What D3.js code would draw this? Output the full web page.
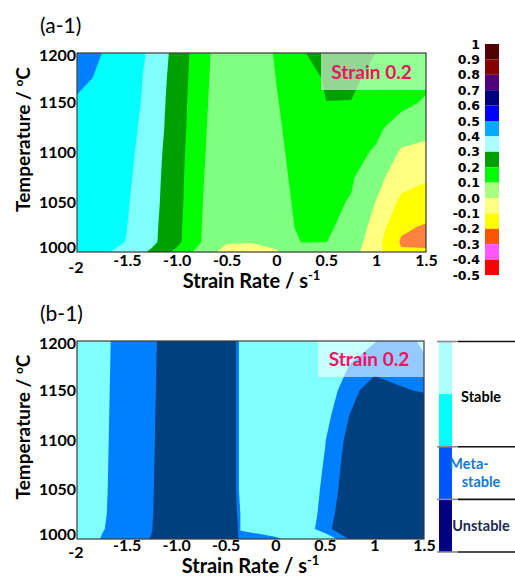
<!DOCTYPE html>
<html>
<head>
<meta charset="utf-8">
<script src="https://cdn.jsdelivr.net/npm/d3@7"></script>
<style>
  body { margin: 0; background: #fff; }
  svg { display: block; }
</style>
</head>
<body>
<script>
// ---------- data ----------
const temperatures = [1000, 1010, 1025, 1050, 1075, 1100, 1125, 1150, 1175, 1200];

// (a-1) power dissipation efficiency, one row per temperature
const etaRates = [-2, -1.75, -1.5, -1.25, -1, -0.75, -0.5, -0.25, 0, 0.25, 0.5, 0.75, 1, 1.25, 1.5];
const etaGrid = [
  [0.45, 0.421, 0.356, 0.285, 0.176, 0.057, -0.038, -0.04, -0.01, 0.0525, 0.06, 0.035, -0.065, -0.19, -0.18],
  [0.44, 0.425, 0.398, 0.322, 0.225, 0.098, 0.01, 0.004, 0.03, 0.102, 0.101, 0.06, -0.065, -0.21, -0.23],
  [0.43, 0.415, 0.401, 0.325, 0.228, 0.1005, 0.015, 0.015, 0.03, 0.127, 0.11, 0.079, -0.044, -0.184, -0.21],
  [0.44, 0.425, 0.409, 0.331, 0.235, 0.1044, 0.02, 0.03, 0.05, 0.133, 0.12, 0.094, -0.004, -0.1205, -0.145],
  [0.45, 0.435, 0.418, 0.336, 0.238, 0.109, 0.02, 0.03, 0.06, 0.144, 0.14, 0.11, 0.035, -0.062, -0.088],
  [0.46, 0.445, 0.427, 0.342, 0.243, 0.115, 0.02, 0.03, 0.07, 0.155, 0.16, 0.13, 0.088, -0.012, -0.029],
  [0.47, 0.455, 0.439, 0.35, 0.25, 0.121, 0.02, 0.025, 0.08, 0.168, 0.18, 0.165, 0.1235, 0.05, 0.031],
  [0.485, 0.475, 0.453, 0.358, 0.252, 0.128, 0.02, 0.03, 0.095, 0.145, 0.199, 0.197, 0.17, 0.13, 0.086],
  [0.53, 0.482, 0.455, 0.3675, 0.256, 0.135, 0.021, 0.035, 0.102, 0.15, 0.2125, 0.225, 0.165, 0.145, 0.13],
  [0.555, 0.5, 0.46, 0.38, 0.263, 0.14, 0.029, 0.04, 0.11, 0.185, 0.265, 0.27, 0.198, 0.17, 0.15]
];
const etaThresholds = [-0.2, -0.1, 0, 0.1, 0.2, 0.3, 0.4, 0.5];
const etaColors = ['#ff8040', '#ffff00', '#ffff80', '#80ff80', '#00ff00', '#00a000', '#80ffff', '#00ffff', '#0080ff'];

// (b-1) stability class index: <1 stable, 1-2 metastable, >=2 unstable
const stabRates = [-2, -1.75, -1.5, -1.25, -1, -0.75, -0.4, -0.35, 0, 0.25, 0.5, 0.75, 1, 1.25, 1.5];
const stabGrid = [
  [0, 1.064, 1.5, 2.043, 3, 3, 2.75, 1.5, 1.3, 0, 0, 2.08, 3, 3, 3],
  [0, 0.932, 1.5, 1.958, 3, 3, 3, 0.9, 0, 0, 1.667, 2.857, 3, 3, 3],
  [0, 0.875, 1.5, 1.922, 3, 3, 2.45, 0.94, 0, 0, 1.43, 2.86, 3, 3, 3],
  [0, 0.842, 1.5, 1.889, 3, 3, 2.2, 0.4, 0, 0, 1.25, 2.639, 3, 3, 3],
  [0, 0.824, 1.5, 1.864, 3, 3, 2.2, 0.4, 0, 0, 1.087, 2.51, 3, 3, 3],
  [0, 0.806, 1.5, 1.837, 3, 3, 2.2, 0.4, 0, 0, 0.944, 2.333, 3, 3, 3],
  [0, 0.786, 1.5, 1.81, 3, 3, 2.2, 0.4, 0, 0, 0.649, 2.02, 3, 3, 3],
  [0, 0.765, 1.5, 1.78, 3, 3, 2.2, 0.4, 0, 0, 0.458, 1.5, 2.75, 2.127, 1.9],
  [0, 0.742, 1.5, 1.75, 3, 3, 2.2, 0.4, 0, 0, 0, 1.04, 1.5, 1.5, 1.227],
  [0, 0.72, 1.5, 1.71, 3, 3, 2.2, 0.4, 0, 0, 0, 0.3, 0.95, 1.5, 0.79]
];
const stabThresholds = [1, 2];
const stabColors = ['#80ffff', '#0080ff', '#004080'];

const xTicks = [-2, -1.5, -1, -0.5, 0, 0.5, 1, 1.5];
const xTickLabels = ['-2', '-1.5', '-1.0', '-0.5', '0', '0.5', '1', '1.5'];
const yTicks = [1000, 1050, 1100, 1150, 1200];

const barValues = [1, 0.9, 0.8, 0.7, 0.6, 0.5, 0.4, 0.3, 0.2, 0.1, 0, -0.1, -0.2, -0.3, -0.4, -0.5];
const barLabels = ['1', '0.9', '0.8', '0.7', '0.6', '0.5', '0.4', '0.3', '0.2', '0.1', '0.0', '-0.1', '-0.2', '-0.3', '-0.4', '-0.5'];
const barColors = ['#4f0000', '#850000', '#50007f', '#00007f', '#0000ff', '#00aaff', '#aaffff',
  '#00a000', '#00ff00', '#aaff80', '#ffff80', '#ffff00', '#ff5500', '#ff55ff', '#ff0000'];

const stabSwatches = ['#aaffff', '#00ffff', '#0055ff', '#000080'];
const stabClasses = [
  { lines: ['Stable'], from: 0, to: 2, color: '#000' },
  { lines: ['Meta-', 'stable'], from: 2, to: 3, color: '#1a78cc' },
  { lines: ['Unstable'], from: 3, to: 4, color: '#1c2a55' }
];

// ---------- drawing ----------
const FONT = 'Lato, "Open Sans", sans-serif';
const svg = d3.select('body').append('svg').attr('width', 515).attr('height', 576);

function panel(cfg) {
  const { id, left, right, top, bottom, rates, grid, thresholds, colors } = cfg;
  const x = d3.scaleLinear().domain([-2, 1.5]).range([left, right]);
  const y = d3.scaleLinear().domain([1000, 1200]).range([bottom, top]);

  // grid sample i sits at contour coordinate i + 0.5
  const gx = d3.scaleLinear().domain(rates.map((_, i) => i + 0.5)).range(rates.map(x));
  const gy = d3.scaleLinear().domain(temperatures.map((_, j) => j + 0.5)).range(temperatures.map(y));
  const path = d3.geoPath(d3.geoTransform({
    point(px, py) { this.stream.point(gx(px), gy(py)); }
  }));
  const contours = d3.contours()
    .size([rates.length, temperatures.length])
    .thresholds(thresholds)(grid.flat());

  svg.append('clipPath').attr('id', id)
    .append('rect').attr('x', left).attr('y', top)
    .attr('width', right - left).attr('height', bottom - top);

  const g = svg.append('g').attr('clip-path', `url(#${id})`);
  g.append('rect').attr('x', left).attr('y', top)
    .attr('width', right - left).attr('height', bottom - top)
    .attr('fill', colors[0]);
  g.selectAll('path')
    .data(contours)
    .join('path')
    .attr('d', path)
    .attr('fill', (d, i) => colors[i + 1]);

  // label box
  g.append('rect')
    .attr('x', cfg.boxX).attr('y', top)
    .attr('width', right - cfg.boxX).attr('height', cfg.boxH)
    .attr('fill', '#fff').attr('fill-opacity', 0.58);
  svg.append('text')
    .attr('x', (cfg.boxX + right) / 2 - 2).attr('y', top + cfg.boxH - 11)
    .attr('text-anchor', 'middle')
    .attr('font-family', FONT).attr('font-weight', 700).attr('font-size', 19)
    .attr('fill', '#ec1460')
    .text('Strain 0.2');

  svg.append('rect')
    .attr('x', left).attr('y', top)
    .attr('width', right - left).attr('height', bottom - top)
    .attr('fill', 'none').attr('stroke', '#3a3a3a').attr('stroke-width', 1.2);

  const xa = svg.append('g').attr('transform', `translate(0,${bottom})`)
    .call(d3.axisBottom(x).tickValues(xTicks)
      .tickFormat((d, i) => xTickLabels[i]).tickSize(0).tickPadding(cfg.tickPad));
  xa.select('.domain').remove();
  xa.selectAll('text')
    .attr('font-family', FONT).attr('font-weight', 700).attr('font-size', 16).attr('fill', '#000');
  xa.selectAll('text').filter(d => d === -2).attr('dx', '-0.1em').attr('dy', '1.15em');

  const ya = svg.append('g').attr('transform', `translate(${left},0)`)
    .call(d3.axisLeft(y).tickValues(yTicks).tickFormat(d3.format('d')).tickSize(0).tickPadding(1));
  ya.select('.domain').remove();
  ya.selectAll('text')
    .attr('font-family', FONT).attr('font-weight', 700).attr('font-size', 16).attr('fill', '#000');
  ya.selectAll('text').filter(d => d === 1000).attr('dy', '0.05em');
  ya.selectAll('text').filter(d => d === 1200).attr('dy', '0.45em');

  svg.append('text')
    .attr('x', 40).attr('y', top - 20)
    .attr('font-family', FONT).attr('font-size', 21).attr('fill', '#000')
    .text(cfg.title);

  const xt = svg.append('text')
    .attr('x', (left + right) / 2).attr('y', bottom + cfg.titleGap)
    .attr('text-anchor', 'middle')
    .attr('font-family', FONT).attr('font-weight', 700).attr('font-size', 20).attr('fill', '#000');
  xt.append('tspan').text('Strain Rate / s');
  xt.append('tspan').attr('font-size', 13).attr('dy', -8).text('-1');

  const yt = svg.append('text')
    .attr('transform', `translate(30,${(top + bottom) / 2 - 13}) rotate(-90)`)
    .attr('text-anchor', 'middle')
    .attr('font-family', FONT).attr('font-weight', 700).attr('font-size', 19).attr('fill', '#000');
  yt.append('tspan').text('Temperature / ');
  yt.append('tspan').attr('font-size', 12).attr('dy', -7).text('o');
  yt.append('tspan').attr('dy', 7).text('C');
}

panel({
  id: 'clipA', title: '(a-1)', left: 77, right: 426, top: 53, bottom: 252,
  rates: etaRates, grid: etaGrid, thresholds: etaThresholds, colors: etaColors,
  boxX: 321, boxH: 37, titleGap: 36, tickPad: 3
});
panel({
  id: 'clipB', title: '(b-1)', left: 77, right: 424, top: 341, bottom: 539,
  rates: stabRates, grid: stabGrid, thresholds: stabThresholds, colors: stabColors,
  boxX: 318, boxH: 36, titleGap: 34, tickPad: 1
});

// colour bar for (a-1)
const cb = d3.scaleLinear().domain([-0.5, 1]).range([275, 44]);
svg.append('g').selectAll('rect')
  .data(barColors)
  .join('rect')
  .attr('x', 485).attr('width', 14)
  .attr('y', (d, i) => cb(barValues[i]))
  .attr('height', (d, i) => cb(barValues[i + 1]) - cb(barValues[i]))
  .attr('fill', d => d);
svg.append('g').selectAll('text')
  .data(barLabels)
  .join('text')
  .attr('x', 480).attr('y', (d, i) => cb(barValues[i]))
  .attr('dy', '0.36em')
  .attr('text-anchor', 'end')
  .attr('font-family', '"DejaVu Sans", sans-serif').attr('font-weight', 700).attr('font-size', 12.5)
  .attr('fill', '#000')
  .text(d => d);

// stability legend for (b-1)
const sb = d3.scaleLinear().domain([0, 4]).range([341.5, 552]);
svg.append('g').selectAll('rect')
  .data(stabSwatches)
  .join('rect')
  .attr('x', 439).attr('width', 13)
  .attr('y', (d, i) => sb(i))
  .attr('height', (d, i) => sb(i + 1) - sb(i))
  .attr('fill', d => d);

const sepLevels = [0, 2, 3, 4];
const seps = svg.append('g');
sepLevels.forEach(v => {
  seps.append('line').attr('x1', 437).attr('x2', 458).attr('y1', sb(v)).attr('y2', sb(v))
    .attr('stroke', '#8a8a8a').attr('stroke-width', 1.6);
  seps.append('line').attr('x1', 458).attr('x2', 515).attr('y1', sb(v)).attr('y2', sb(v))
    .attr('stroke', '#111').attr('stroke-width', 1.6);
});

stabClasses.forEach(c => {
  const mid = c.lines.length === 1 && c.to - c.from === 2 ? sb(c.from + 1.05) : sb((c.from + c.to) / 2);
  const t = svg.append('text')
    .attr('x', 481).attr('y', mid)
    .attr('text-anchor', 'middle')
    .attr('font-family', FONT).attr('font-weight', 700).attr('font-size', 14.5)
    .attr('fill', c.color);
  c.lines.forEach((s, k) => {
    t.append('tspan')
      .attr('x', k === 0 && c.lines.length > 1 ? 469 : 481)
      .attr('dy', k === 0 ? (0.35 - (c.lines.length - 1) * 0.6) + 'em' : '1.2em')
      .text(s);
  });
});
</script>
</body>
</html>
